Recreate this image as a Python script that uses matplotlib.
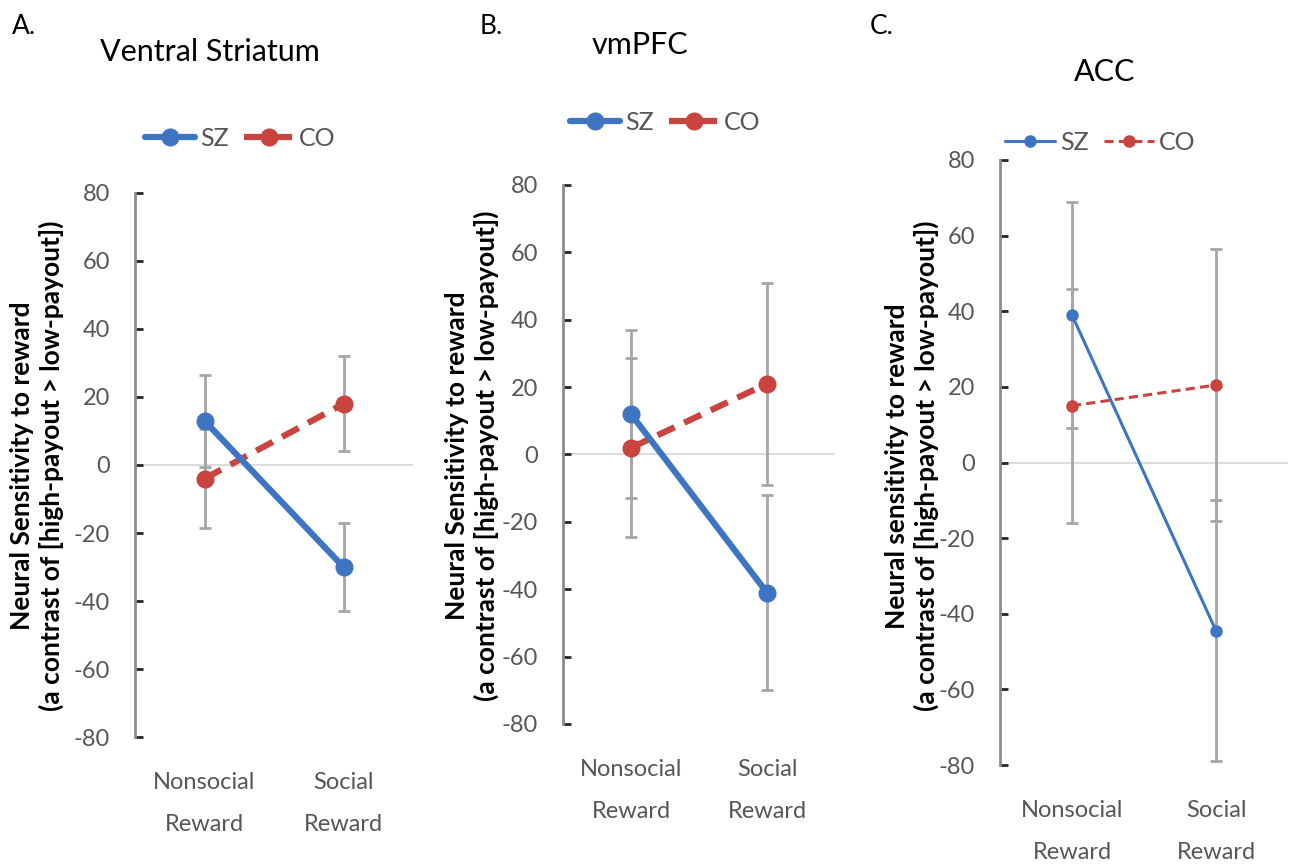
import matplotlib.pyplot as plt

plt.rcParams['font.family'] = ['Lato', 'DejaVu Sans']
plt.rcParams['axes.unicode_minus'] = False

# -----------------------------
# data
# -----------------------------
categories = ['Nonsocial\nReward', 'Social\nReward']
yticks = [80, 60, 40, 20, 0, -20, -40, -60, -80]

panels = ['A.', 'B.', 'C.']
titles = ['Ventral Striatum', 'vmPFC', 'ACC']
ylabels = ['Neural Sensitivity to reward\n(a contrast of [high-payout > low-payout])',
           'Neural Sensitivity to reward\n(a contrast of [high-payout > low-payout])',
           'Neural sensitivity to reward\n(a contrast of [high-payout > low-payout])']

sz_mean = [[13, -30], [12, -41], [39, -44.5]]
sz_err = [[13.5, 13], [25, 29], [30, 34.5]]
co_mean = [[-4, 18], [2, 21], [15, 20.5]]
co_err = [[14.5, 14], [26.5, 30], [31, 36]]

# -----------------------------
# layout (pixels of 1289x866 picture)
# -----------------------------
W, H = 1289, 866
# left, right, y(80), y(-80)
boxes = [(135, 413, 193, 737), (563, 835, 185, 724), (1000, 1288, 160, 765)]
letter_pos = [(12, 27), (480, 27), (870, 27)]
title_pos = [(210, 52), (640, 45), (1105, 72)]
legend_pos = [(240, 138), (665, 122), (1100, 142)]
ylabel_pos = [(37, 466), (472, 456), (912, 466)]
lw = [4.5, 4.5, 2.2]
ms = [12, 12, 8]

blue = '#3E75C2'
red = '#C9443F'
grey_txt = '#5A5555'

fig = plt.figure(figsize=(W / 100, H / 100), dpi=100)

for i in range(3):
    l, r, yt, yb = boxes[i]
    ax = fig.add_axes([l / W, (H - yb) / H, (r - l) / W, (yb - yt) / H])
    x = [0.5, 1.5]

    ax.axhline(0, color='#D9D9D9', lw=1.3, zorder=1)
    ax.errorbar(x, sz_mean[i], yerr=sz_err[i], fmt='none', ecolor='#A6A6A6',
                elinewidth=2, capsize=4, capthick=2, zorder=2)
    ax.errorbar(x, co_mean[i], yerr=co_err[i], fmt='none', ecolor='#A6A6A6',
                elinewidth=2, capsize=4, capthick=2, zorder=2)
    ax.plot(x, sz_mean[i], color=blue, lw=lw[i], marker='o', ms=ms[i],
            label='SZ', zorder=4, solid_capstyle='round')
    ax.plot(x, co_mean[i], color=red, lw=lw[i], ls=(0, (3, 1.7)), marker='o',
            ms=ms[i], label='CO', zorder=3)

    ax.set_xlim(0, 2)
    ax.set_ylim(-80, 80)
    ax.set_yticks(yticks)
    ax.set_xticks(x)
    ax.set_xticklabels(categories, fontsize=17, color=grey_txt, linespacing=2.25)
    ax.tick_params(axis='x', length=0, pad=25)
    ax.tick_params(axis='y', direction='in', length=6, width=2, color='#262626',
                   labelsize=17, labelcolor=grey_txt, pad=18)
    for s in ['top', 'right', 'bottom']:
        ax.spines[s].set_visible(False)
    ax.spines['left'].set_color('#8C8C8C')
    ax.spines['left'].set_linewidth(2)
    ax.patch.set_alpha(0)

    fig.text(letter_pos[i][0] / W, 1 - letter_pos[i][1] / H, panels[i],
             fontsize=19, ha='left', va='center')
    fig.text(title_pos[i][0] / W, 1 - title_pos[i][1] / H, titles[i],
             fontsize=22, ha='center', va='center')
    fig.text(ylabel_pos[i][0] / W, 1 - ylabel_pos[i][1] / H, ylabels[i],
             fontsize=19, ha='center', va='center', rotation=90,
             linespacing=1.2, fontweight='bold')
    ax.legend(loc='center', bbox_to_anchor=(legend_pos[i][0] / W, 1 - legend_pos[i][1] / H),
              bbox_transform=fig.transFigure, ncol=2, frameon=False, fontsize=18,
              handlelength=2.0, columnspacing=0.6, handletextpad=0.2,
              labelcolor=grey_txt)

fig.savefig('out.png', dpi=100)
